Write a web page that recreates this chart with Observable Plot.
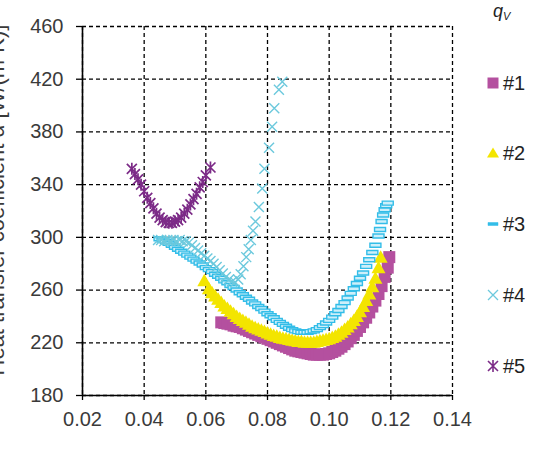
<!DOCTYPE html>
<html><head><meta charset="utf-8">
<script src="https://cdn.jsdelivr.net/npm/d3@7"></script>
<script src="https://cdn.jsdelivr.net/npm/@observablehq/plot@0.6"></script>
<style>
body{margin:0;background:#fff;}
#wrap{position:relative;width:533px;height:452px;overflow:hidden;}
</style></head><body><div id="wrap"></div>
<script>
const xTicks = [0.02,0.04,0.06,0.08,0.10,0.12,0.14];
const yTicks = [180,220,260,300,340,380,420,460];
const seriesNames = ["#1","#2","#3","#4","#5"];
const legendTitle = "q";
const legendSub = "V";
const yLabel = "Heat transfer coefficient α [W/(m²K)]";

const s1x = [0.065,0.066,0.067,0.068,0.069,0.070,0.071,0.072,0.073,0.074,0.075,0.076,0.077,0.078,0.079,0.080,0.081,0.082,0.083,0.084,0.085,0.086,0.087,0.088,0.089,0.090,0.091,0.092,0.093,0.094,0.095,0.096,0.097,0.098,0.099,0.100,0.101,0.102,0.103,0.104,0.105,0.106,0.107,0.108,0.109,0.110,0.111,0.112,0.113,0.114,0.115,0.116,0.117,0.118,0.119,0.1195];
const s1y = [235.5,235,234.5,234,233,232.5,232,231,230,229,228,227,226,225,224,223,222,221,220,219,218,217,216,215,214,213.5,213,212.5,212,211.5,211,211,211,211,211.5,212,213,214,215.5,217,219,221,223.5,226,229,232,235.5,239,243,247.5,252,257,263,270,277,285];

const s2x = [0.0595,0.061,0.062,0.063,0.064,0.065,0.066,0.067,0.068,0.069,0.070,0.071,0.072,0.073,0.074,0.075,0.076,0.077,0.078,0.079,0.080,0.081,0.082,0.083,0.084,0.085,0.086,0.087,0.088,0.089,0.090,0.091,0.092,0.093,0.094,0.095,0.096,0.097,0.098,0.099,0.100,0.101,0.102,0.103,0.104,0.105,0.106,0.107,0.108,0.109,0.110,0.111,0.112,0.113,0.114,0.115,0.116,0.1167];
const s2y = [267,261,258,255.5,253,250.5,248,246,244,242,240,238.5,237,235.5,234,232.5,231.5,230.5,229.5,228.5,227.5,226.5,225.5,225,224,223.5,223,222.5,222,221.5,221,221,220.5,220.5,220.5,220.5,221,221.5,222,222.5,223,224,225,226.5,228,230,232,234.5,237,240,243.5,247.5,252,257,262.5,269,277,285];

const s3x = [0.045,0.046,0.047,0.048,0.049,0.050,0.051,0.052,0.053,0.054,0.055,0.056,0.057,0.058,0.059,0.060,0.061,0.062,0.063,0.064,0.065,0.066,0.067,0.068,0.069,0.070,0.071,0.072,0.073,0.074,0.075,0.076,0.077,0.078,0.079,0.080,0.081,0.082,0.083,0.084,0.085,0.086,0.087,0.088,0.089,0.090,0.091,0.092,0.093,0.094,0.095,0.096,0.097,0.098,0.099,0.100,0.101,0.102,0.103,0.104,0.105,0.106,0.107,0.108,0.109,0.110,0.111,0.112,0.113,0.114,0.115,0.116,0.1165,0.117,0.1175,0.118,0.1185,0.119];
const s3y = [299,298,297,295.5,294,292.5,291,289.5,288,286.5,285,283.5,282,280.5,279,277,275.5,274,272,270.5,269,267,265.5,263.5,262,260,258,256.5,254.5,253,251,249.5,247.5,246,244,242,240.5,239,237,235.5,234,232.5,231,230,229,228.5,228,228,228,228.5,229,230,231.5,233,235,237,239.5,242,244.5,247.5,250.5,254,257.5,261,265,269,273,278,283,288.5,294,301,306,312,317,321,324,326];

const s4x = [0.0445,0.0455,0.0465,0.0475,0.0485,0.0495,0.0505,0.0515,0.0525,0.0535,0.0545,0.0555,0.0565,0.0575,0.0585,0.0595,0.0605,0.0615,0.0625,0.0635,0.0645,0.0655,0.0665,0.0675,0.0685,0.0695,0.0705,0.0713,0.0722,0.0731,0.0739,0.0746,0.0753,0.0761,0.0772,0.0783,0.0790,0.0805,0.0815,0.0822,0.0837,0.0848];
const s4y = [298,298,297,298,297,298,297,298,297,297,296,294,292,290,288,286,284,282,280,277.5,275,272.5,270,268,266.5,266,268,272,278,285,291,298,305,312,323,337,352,368,384,398,412,418];

const s5x = [0.036,0.037,0.038,0.039,0.040,0.041,0.042,0.043,0.044,0.045,0.046,0.047,0.048,0.049,0.050,0.051,0.052,0.053,0.054,0.055,0.056,0.057,0.058,0.059,0.060,0.0615];
const s5y = [352,348,344,340,335,330,326,322,318,315,313,311.5,311,311,312,313,315,318,321,325,329,333,338,342,347,353];

const colors = ["#b4509f","#f3e500","#33bde8","#6cc9dd","#7c2b87"];

const sq = {draw(c){const s=6;c.moveTo(-s,-s);c.lineTo(s,-s);c.lineTo(s,s);c.lineTo(-s,s);c.closePath();}};
const tri = {draw(c){c.moveTo(0,-7);c.lineTo(7,5.5);c.lineTo(-7,5.5);c.closePath();}};
const dash = {draw(c){c.moveTo(-5.5,-2);c.lineTo(5.5,-2);c.lineTo(5.5,2);c.lineTo(-5.5,2);c.closePath();}};
const cross = {draw(c){const s=5;c.moveTo(-s,-s);c.lineTo(s,s);c.moveTo(s,-s);c.lineTo(-s,s);}};
const star = {draw(c){const s=5;c.moveTo(-s,-s);c.lineTo(s,s);c.moveTo(s,-s);c.lineTo(-s,s);c.moveTo(0,-s-1);c.lineTo(0,s+1);}};
const legDash = {draw(c){c.moveTo(-5,-1.5);c.lineTo(5,-1.5);c.lineTo(5,1.5);c.lineTo(-5,1.5);c.closePath();}};
const legSq = {draw(c){const s=5.5;c.moveTo(-s,-s);c.lineTo(s,-s);c.lineTo(s,s);c.lineTo(-s,s);c.closePath();}};
const legTri = {draw(c){c.moveTo(0,-5.5);c.lineTo(6,4.5);c.lineTo(-6,4.5);c.closePath();}};

const toRows = (xs, ys) => xs.map((x,i)=>({x, y: ys[i]}));
const d1 = toRows(s1x,s1y), d2 = toRows(s2x,s2y), d3r = toRows(s3x,s3y), d4 = toRows(s4x,s4y), d5 = toRows(s5x,s5y);

const font = "'Liberation Sans', Arial, sans-serif";
const chart = Plot.plot({
  width: 533, height: 452,
  marginLeft: 82, marginRight: 81, marginTop: 26, marginBottom: 57,
  style: {fontFamily: font, fontSize: "20px", color: "#3a3a3a", background: "#fff", overflow: "visible"},
  x: {domain: [0.02, 0.14], label: null},
  y: {domain: [180, 460], label: null},
  marks: [
    Plot.gridX(xTicks, {stroke: "#000", strokeOpacity: 1, strokeWidth: 1.3, strokeDasharray: "4,3"}),
    Plot.gridY(yTicks, {stroke: "#000", strokeOpacity: 1, strokeWidth: 1.3, strokeDasharray: "4,3"}),
    Plot.dot(d1, {x: "x", y: "y", symbol: sq, fill: colors[0], stroke: "none"}),
    Plot.dot(d2, {x: "x", y: "y", symbol: tri, fill: colors[1], stroke: "none"}),
    Plot.dot(d3r, {x: "x", y: "y", symbol: dash, fill: "#cdeffa", stroke: colors[2], strokeWidth: 1.4}),
    Plot.dot(d4, {x: "x", y: "y", symbol: cross, fill: "none", stroke: colors[3], strokeWidth: 1.4}),
    Plot.dot(d5, {x: "x", y: "y", symbol: star, fill: "none", stroke: colors[4], strokeWidth: 1.7}),
    Plot.ruleX([0.02], {stroke: "#000", strokeWidth: 1.6}),
    Plot.ruleY([180], {stroke: "#000", strokeWidth: 1.6}),
    Plot.axisX(xTicks, {tickSize: 5, tickPadding: 11, tickFormat: d => d.toFixed(2), stroke: "#000", strokeWidth: 1.3, label: null, fontSize: 20}),
    Plot.axisY(yTicks, {tickSize: 6, tickPadding: 13, stroke: "#000", strokeWidth: 1.3, label: null, fontSize: 20})
  ]
});
document.getElementById("wrap").appendChild(chart);

// y label (partially cut at left edge, as in the reference) and legend
const svg = d3.select(chart);
svg.append("text")
  .attr("transform", "translate(4,200) rotate(-90)")
  .attr("text-anchor", "middle")
  .attr("font-family", font).attr("font-size", 22).attr("fill", "#3a3a3a")
  .text(yLabel);

const lg = svg.append("g").attr("font-family", font).attr("fill", "#222").attr("text-anchor", "start");
const title = lg.append("text").attr("x", 493).attr("y", 17).attr("font-size", 18).attr("font-style", "italic");
title.append("tspan").text(legendTitle);
title.append("tspan").attr("font-size", 11).attr("dy", 3).text(legendSub);

const legendY = [83, 153, 224, 295, 366];
const syms = [legSq, legTri, legDash, cross, star];
const legSym = [
  {fill: colors[0], stroke: "none", sw: 0},
  {fill: colors[1], stroke: "none", sw: 0},
  {fill: colors[2], stroke: colors[2], sw: 0.5},
  {fill: "none", stroke: colors[3], sw: 1.3},
  {fill: "none", stroke: colors[4], sw: 1.6}
];
seriesNames.forEach((name, i) => {
  lg.append("path")
    .attr("transform", `translate(493,${legendY[i]})`)
    .attr("d", d3.symbol(syms[i])())
    .attr("fill", legSym[i].fill).attr("stroke", legSym[i].stroke).attr("stroke-width", legSym[i].sw);
  lg.append("text").attr("x", 503).attr("y", legendY[i]).attr("dy", "0.36em")
    .attr("font-size", 20).text(name);
});
</script>
</body></html>
